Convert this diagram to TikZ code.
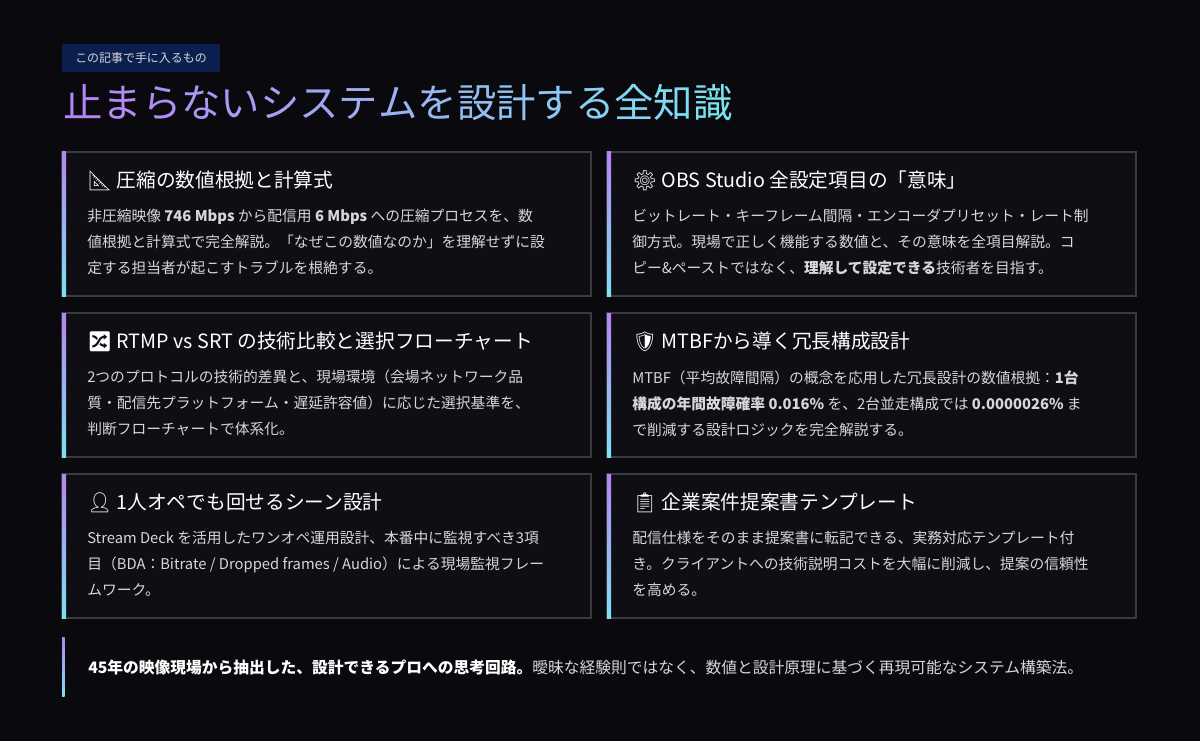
\documentclass[tikz,border=0pt]{standalone}
\usepackage{fontspec}
\setmainfont{Noto Sans CJK JP}
\newfontfamily\emoji{Noto Emoji}
\usetikzlibrary{positioning}
\definecolor{bgdark}{HTML}{0A090E}
\definecolor{cardbg}{HTML}{0E0E14}
\definecolor{cardline}{HTML}{3A3A42}
\definecolor{tagbg}{HTML}{0B1F4F}
\definecolor{purp}{HTML}{B784F5}
\definecolor{cyanx}{HTML}{7BE3F0}
\definecolor{bodytxt}{HTML}{D6D6DC}
\newcommand{\gc}[2]{\textcolor{cyanx!#1!purp}{#2}}
\newcommand{\card}[5]{%
  \fill[cardbg] (#1,#2) rectangle ++(529,144);
  \draw[cardline, line width=1.1pt] (#1,#2) rectangle ++(529,144);
  \shade[top color=purp, bottom color=cyanx] (#1,#2) rectangle ++(4,144);
  \node[cardtitle] (#3t) at (#1+25,#2+29) {#4};
  \node[cardbody, anchor=north west] (#3b) at (#1+25,#2+57) {#5};
}
\begin{document}
\begin{tikzpicture}[x=0.025cm, y=-0.025cm,
  cardtitle/.style={anchor=west, text=white, font=\fontsize{14}{16}\selectfont, inner sep=0pt},
  cardbody/.style={align=left, text=bodytxt, font=\fontsize{10.5}{18.5}\selectfont, inner sep=0pt}]
  \fill[bgdark] (0,0) rectangle (1200,741);
  \useasboundingbox (0,0) rectangle (1200,741);

  % tag and title
  \fill[tagbg] (62,44) rectangle (220,72);
  \node[text=bodytxt, font=\fontsize{8.5}{10}\selectfont] (tag) at (141,58) {この記事で手に入るもの};
  \node[anchor=west, inner sep=0pt, font=\fontsize{28}{34}\selectfont] (title) at (63,103)
    {\gc{0}{止}\gc{6}{ま}\gc{12}{ら}\gc{18}{な}\gc{24}{い}\gc{30}{シ}\gc{36}{ス}\gc{42}{テ}\gc{48}{ム}\gc{54}{を}\gc{60}{設}\gc{66}{計}\gc{72}{す}\gc{78}{る}\gc{86}{全}\gc{93}{知}\gc{100}{識}};

  % cards
  \card{62}{152}{cmp}{{\emoji 📐} 圧縮の数値根拠と計算式}
    {非圧縮映像 \textbf{746 Mbps} から配信用 \textbf{6 Mbps} への圧縮プロセスを、数\\値根拠と計算式で完全解説。「なぜこの数値なのか」を理解せずに設\\定する担当者が起こすトラブルを根絶する。}
  \card{607}{152}{obs}{{\emoji ⚙} OBS Studio 全設定項目の「意味」}
    {ビットレート・キーフレーム間隔・エンコーダプリセット・レート制\\御方式。現場で正しく機能する数値と、その意味を全項目解説。コ\\ピー\&ペーストではなく、\textbf{理解して設定できる}技術者を目指す。}
  \card{62}{313}{srt}{{\emoji 🔀} RTMP vs SRT の技術比較と選択フローチャート}
    {2つのプロトコルの技術的差異と、現場環境（会場ネットワーク品\\質・配信先プラットフォーム・遅延許容値）に応じた選択基準を、\\判断フローチャートで体系化。}
  \card{607}{313}{mtbf}{{\emoji 🛡} MTBFから導く冗長構成設計}
    {MTBF（平均故障間隔）の概念を応用した冗長設計の数値根拠：\textbf{1台}\\\textbf{構成の年間故障確率 0.016\%} を、2台並走構成では \textbf{0.0000026\%} ま\\で削減する設計ロジックを完全解説する。}
  \card{62}{474}{ope}{{\emoji 👤} 1人オペでも回せるシーン設計}
    {Stream Deck を活用したワンオペ運用設計、本番中に監視すべき3項\\目（BDA：Bitrate / Dropped frames / Audio）による現場監視フレー\\ムワーク。}
  \card{607}{474}{tpl}{{\emoji 📋} 企業案件提案書テンプレート}
    {配信仕様をそのまま提案書に転記できる、実務対応テンプレート付\\き。クライアントへの技術説明コストを大幅に削減し、提案の信頼性\\を高める。}

  % footer
  \shade[top color=purp, bottom color=cyanx] (62,637) rectangle (64.5,696);
  \node[anchor=west, inner sep=0pt, text=bodytxt, font=\fontsize{11.2}{14}\selectfont] (foot) at (88,667)
    {\textbf{\color{white}45年の映像現場から抽出した、設計できるプロへの思考回路。}曖昧な経験則ではなく、数値と設計原理に基づく再現可能なシステム構築法。};
\end{tikzpicture}
\end{document}
